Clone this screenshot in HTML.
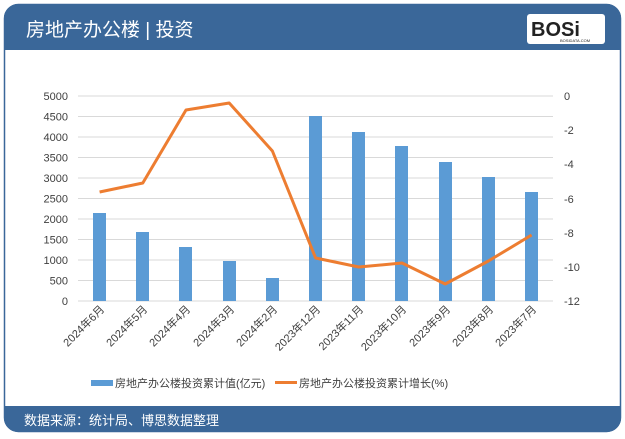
<!DOCTYPE html>
<html><head><meta charset="utf-8"><style>
body{margin:0;width:625px;height:434px;background:#fff;overflow:hidden;font-family:"Liberation Sans","Noto Sans CJK SC",sans-serif}
</style></head><body>
<svg width="625" height="434" xmlns="http://www.w3.org/2000/svg" font-family="Liberation Sans, Noto Sans CJK SC, sans-serif">
<rect x="4.5" y="4.5" width="616" height="427" rx="14" fill="#fff" stroke="#3a6799" stroke-width="1.5"/>
<path d="M4 50 V18 A14 14 0 0 1 18 4 H607 A14 14 0 0 1 621 18 V50 Z" fill="#3a6799"/>
<path d="M4 406 H621 V418 A14 14 0 0 1 607 432 H18 A14 14 0 0 1 4 418 Z" fill="#3a6799"/>
<text x="26" y="36" fill="#fff" font-size="19">房地产办公楼 | 投资</text>
<text x="24" y="425" fill="#fff" font-size="13">数据来源：统计局、博思数据整理</text>
<rect x="527" y="14" width="78" height="30" rx="3" fill="#fff"/>
<text x="531" y="36" font-size="20" font-weight="bold" fill="#222">BOSi</text>
<text x="560" y="42" font-size="4" fill="#222">BOSIDATA.COM</text>
<g stroke="#d9d9d9" stroke-width="1">
<line x1="78" x2="553" y1="96" y2="96"/><line x1="78" x2="553" y1="116.5" y2="116.5"/><line x1="78" x2="553" y1="137" y2="137"/><line x1="78" x2="553" y1="157.5" y2="157.5"/><line x1="78" x2="553" y1="178" y2="178"/><line x1="78" x2="553" y1="198.5" y2="198.5"/><line x1="78" x2="553" y1="219" y2="219"/><line x1="78" x2="553" y1="239.5" y2="239.5"/><line x1="78" x2="553" y1="260" y2="260"/><line x1="78" x2="553" y1="280.5" y2="280.5"/><line x1="78" x2="553" y1="301" y2="301"/>
</g>
<g fill="#5b9bd5">
<rect x="93" y="213" width="13" height="88"/><rect x="136" y="232" width="13" height="69"/><rect x="179" y="247" width="13" height="54"/><rect x="223" y="261" width="13" height="40"/><rect x="266" y="278" width="13" height="23"/><rect x="309" y="116" width="13" height="185"/><rect x="352" y="132" width="13" height="169"/><rect x="395" y="146" width="13" height="155"/><rect x="439" y="162" width="13" height="139"/><rect x="482" y="177" width="13" height="124"/><rect x="525" y="192" width="13" height="109"/>
</g>
<polyline fill="none" stroke="#ed7d31" stroke-width="3" stroke-linejoin="round" points="99.6,192 142.8,183 186,110 229.2,103 272.4,151 315.6,258 358.8,267 402,263 445.2,284 488.4,261 531.6,235"/>
<g font-size="11" fill="#404040" text-anchor="end">
<text x="68" y="100">5000</text><text x="68" y="120.5">4500</text><text x="68" y="141">4000</text><text x="68" y="161.5">3500</text><text x="68" y="182">3000</text><text x="68" y="202.5">2500</text><text x="68" y="223">2000</text><text x="68" y="243.5">1500</text><text x="68" y="264">1000</text><text x="68" y="284.5">500</text><text x="68" y="305">0</text>
</g>
<g font-size="11" fill="#404040">
<text x="564" y="100">0</text><text x="564" y="134">-2</text><text x="564" y="168">-4</text><text x="564" y="203">-6</text><text x="564" y="237">-8</text><text x="564" y="271">-10</text><text x="564" y="305">-12</text>
</g>
<g font-size="11" fill="#404040" text-anchor="end">
<text transform="translate(105,310) rotate(-45)">2024年6月</text>
<text transform="translate(148,310) rotate(-45)">2024年5月</text>
<text transform="translate(191,310) rotate(-45)">2024年4月</text>
<text transform="translate(235,310) rotate(-45)">2024年3月</text>
<text transform="translate(278,310) rotate(-45)">2024年2月</text>
<text transform="translate(321,310) rotate(-45)">2023年12月</text>
<text transform="translate(364,310) rotate(-45)">2023年11月</text>
<text transform="translate(407,310) rotate(-45)">2023年10月</text>
<text transform="translate(451,310) rotate(-45)">2023年9月</text>
<text transform="translate(494,310) rotate(-45)">2023年8月</text>
<text transform="translate(537,310) rotate(-45)">2023年7月</text>
</g>
<rect x="91" y="380" width="22" height="6" fill="#5b9bd5"/>
<text x="115" y="387" font-size="11" fill="#404040">房地产办公楼投资累计值(亿元)</text>
<rect x="275" y="381" width="22" height="3" fill="#ed7d31"/>
<text x="299" y="387" font-size="11" fill="#404040">房地产办公楼投资累计增长(%)</text>
</svg>
</body></html>
